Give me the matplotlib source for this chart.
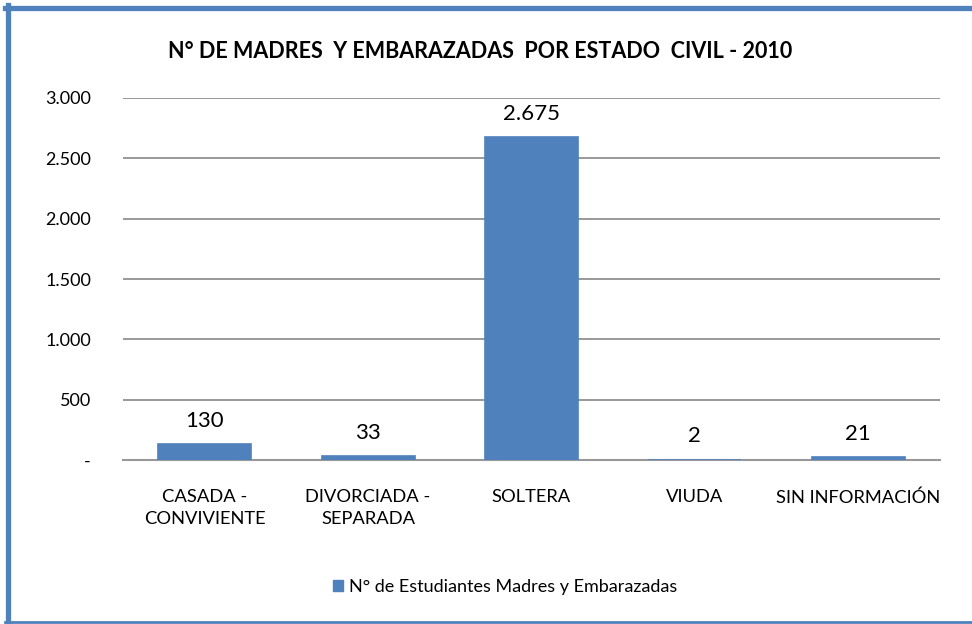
import matplotlib.pyplot as plt
from matplotlib import patches
from matplotlib.lines import Line2D

categories = ["CASADA -\nCONVIVIENTE", "DIVORCIADA -\nSEPARADA", "SOLTERA", "VIUDA", "SIN INFORMACIÓN"]
values = [130, 33, 2675, 2, 21]
yticks = [0, 500, 1000, 1500, 2000, 2500, 3000]
ytick_labels = ["-", "500", "1.000", "1.500", "2.000", "2.500", "3.000"]
series_name = "N° de Estudiantes Madres y Embarazadas"
title = "N° DE MADRES  Y EMBARAZADAS  POR ESTADO  CIVIL - 2010"

plt.rcParams['font.family'] = ['Lato', 'DejaVu Sans']
blue = '#4F81BD'

W, H = 972, 624
fig = plt.figure(figsize=(W / 100, H / 100), dpi=100)
ax = fig.add_axes([123 / W, 1 - 460 / H, (940 - 123) / W, (460 - 98) / H])

x = list(range(len(values)))
ax.bar(x, values, width=0.57, color=blue, edgecolor=blue, linewidth=1.2,
       label=series_name, zorder=3)
for xi, v in zip(x, values):
    ax.text(xi, v + 110, f"{v:,}".replace(",", "."), ha='center', va='bottom',
            fontsize=16, color='black')

ax.set_xlim(-0.5, len(values) - 0.5)
ax.set_ylim(0, 3000)
ax.set_yticks(yticks)
ax.set_yticklabels(ytick_labels, fontsize=13)
ax.set_xticks(x)
ax.set_xticklabels(categories, fontsize=13.2, linespacing=1.45)
ax.tick_params(axis='both', length=0)
ax.tick_params(axis='x', pad=21)
ax.tick_params(axis='y', pad=23)
ax.grid(axis='y', color='#888888', linewidth=1.2, zorder=0)
for s in ['top', 'right', 'left']:
    ax.spines[s].set_visible(False)
ax.spines['bottom'].set_color('#999999')
ax.spines['bottom'].set_linewidth(1.5)

fig.text(480 / W, 1 - 52 / H, title, ha='center', va='center',
         fontsize=15.5, fontweight='bold')

handle = patches.Patch(color=blue)
fig.legend([handle], [series_name], loc='center', bbox_to_anchor=(505 / W, 1 - 587 / H),
           frameon=False, fontsize=13, handlelength=0.55, handleheight=0.55,
           handletextpad=0.3)

# outer frame: thick top and left, thin bottom, right edge cut off
fig.add_artist(Line2D([5 / W, 1.0], [1 - 7.5 / H, 1 - 7.5 / H], transform=fig.transFigure,
                      color=blue, linewidth=3.8))
fig.add_artist(Line2D([7.5 / W, 7.5 / W], [1 - 5 / H, 1 - 621 / H], transform=fig.transFigure,
                      color=blue, linewidth=3.8))
fig.add_artist(Line2D([5 / W, 1.0], [1 - 621.5 / H, 1 - 621.5 / H], transform=fig.transFigure,
                      color=blue, linewidth=2))

fig.savefig('out.png', dpi=100)
